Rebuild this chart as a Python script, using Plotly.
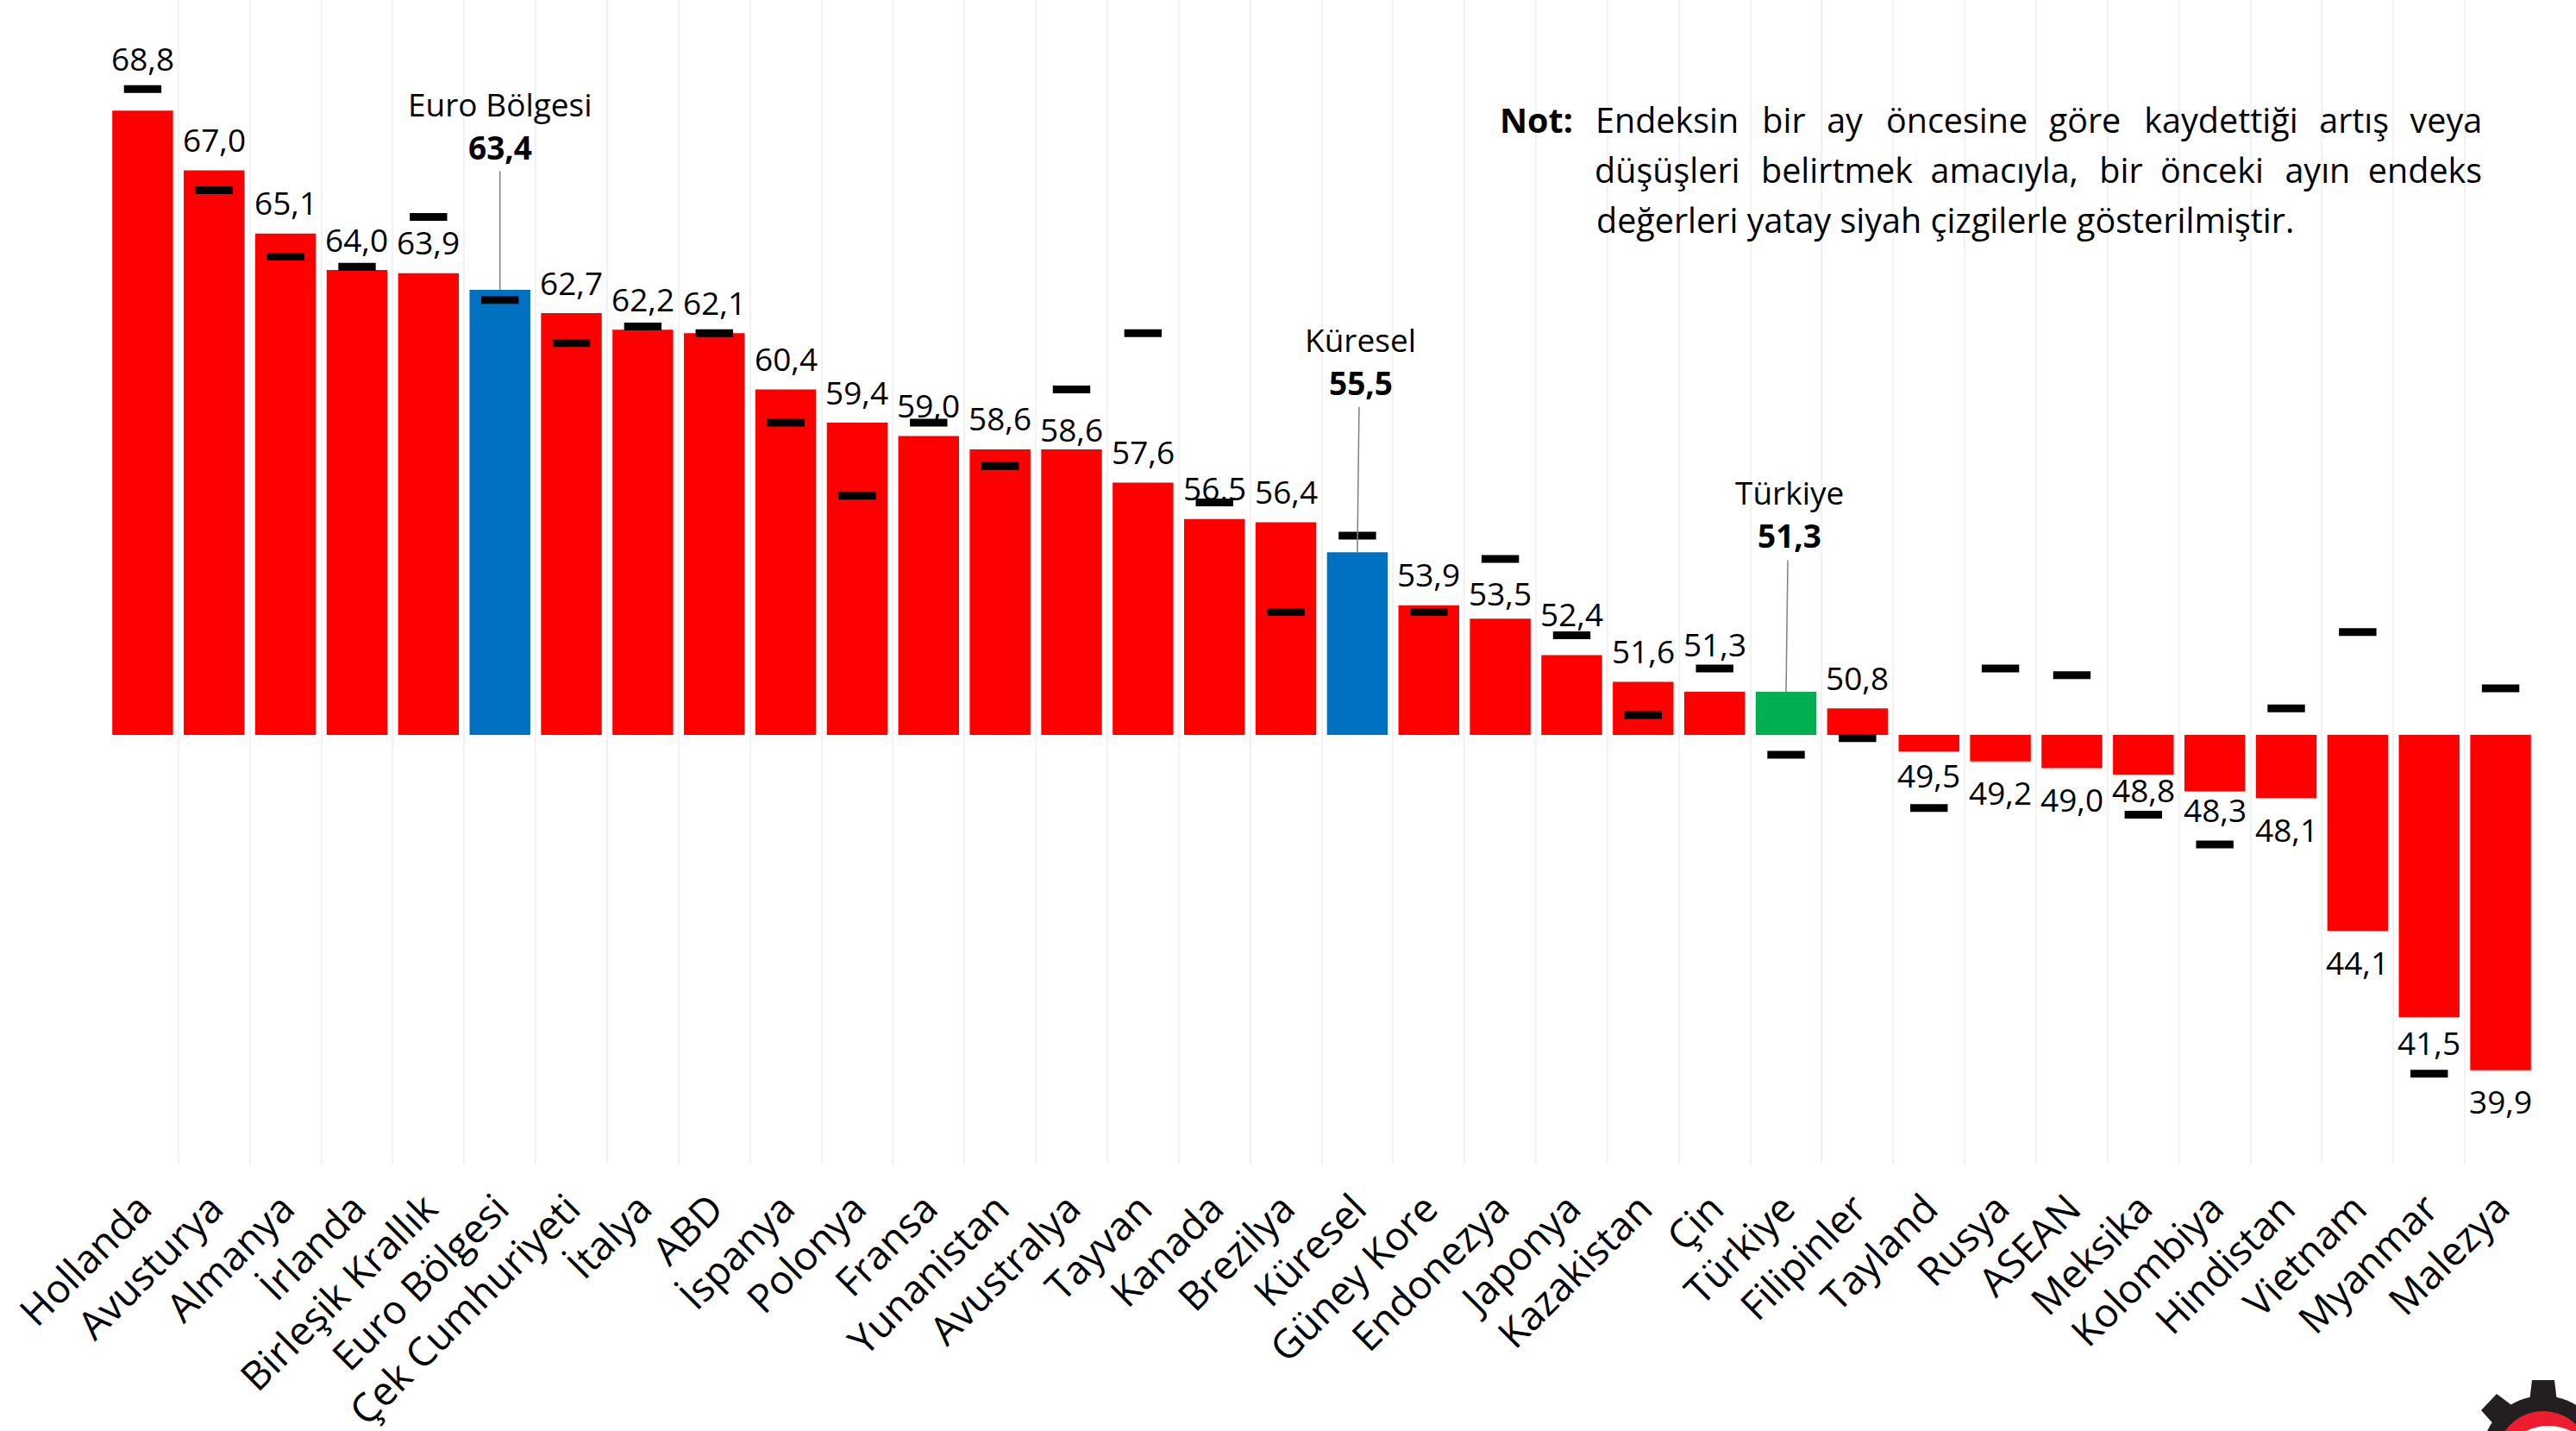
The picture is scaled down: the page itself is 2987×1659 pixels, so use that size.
import plotly.graph_objects as go

categories = ["Hollanda","Avusturya","Almanya","İrlanda","Birleşik Krallık","Euro Bölgesi","Çek Cumhuriyeti","İtalya","ABD","İspanya","Polonya","Fransa","Yunanistan","Avustralya","Tayvan","Kanada","Brezilya","Küresel","Güney Kore","Endonezya","Japonya","Kazakistan","Çin","Türkiye","Filipinler","Tayland","Rusya","ASEAN","Meksika","Kolombiya","Hindistan","Vietnam","Myanmar","Malezya"]
current = [68.8,67.0,65.1,64.0,63.9,63.4,62.7,62.2,62.1,60.4,59.4,59.0,58.6,58.6,57.6,56.5,56.4,55.5,53.9,53.5,52.4,51.6,51.3,51.3,50.8,49.5,49.2,49.0,48.8,48.3,48.1,44.1,41.5,39.9]
previous = [69.45,66.4,64.4,64.1,65.6,63.1,61.8,62.3,62.1,59.4,57.2,59.4,58.1,60.4,62.1,57.0,53.7,56.0,53.7,55.3,53.0,50.6,52.0,49.4,49.9,47.8,52.0,51.8,47.6,46.7,50.8,53.1,39.8,51.4]

W, H = 2987, 1659
L, R, T, B = 123.5, 2941, 0, 1350
FONT = "Open Sans"
RED, BLUE, GREEN = "#FF0000", "#0070C0", "#00B050"
HIGHLIGHT = {"Euro Bölgesi": BLUE, "Küresel": BLUE, "Türkiye": GREEN}

def fmt(v):
    return f"{v:.1f}".replace(".", ",")

def px(x):
    return (x - L) / (R - L)

def py(y):
    return 1 - (y - T) / (B - T)

fig = go.Figure()
fig.add_bar(x=categories, y=[v - 50 for v in current], base=50,
            marker=dict(color=[HIGHLIGHT.get(c, RED) for c in categories], line_width=0),
            showlegend=False)
fig.add_scatter(x=categories, y=previous, mode="markers", showlegend=False,
                marker=dict(symbol="line-ew", size=31, line=dict(color="black", width=9)))

# Label offsets from the bar end, in pixels; exceptions where the marker is in the way
default_shift = 36
shift = {"Hollanda": 61, "Avustralya": 23, "Endonezya": 30, "Japonya": 48, "Çin": 55,
         "Tayland": 27, "Meksika": 17, "Kolombiya": 21, "Myanmar": 29}
ann = []
for c, v in zip(categories, current):
    if c in HIGHLIGHT:
        continue
    s = shift.get(c, default_shift)
    ann.append(dict(x=c, y=v, xref="x", yref="y", text=fmt(v), showarrow=False,
                    yshift=s if v >= 50 else -s, font=dict(family=FONT, size=37, color="black")))

for name, stem in (("Euro Bölgesi", 139), ("Küresel", 170), ("Türkiye", 154)):
    v = current[categories.index(name)]
    ann.append(dict(x=name, y=v, xref="x", yref="y", text="", showarrow=True, arrowhead=0,
                    arrowwidth=1.5, arrowcolor="#7F7F7F", ax=2 if name != "Euro Bölgesi" else 0, ay=-stem))
    ann.append(dict(x=name, y=v, xref="x", yref="y", text=f"<b>{fmt(v)}</b>", showarrow=False,
                    yshift=stem + 27, xshift=4 if name != "Euro Bölgesi" else 0,
                    font=dict(family=FONT, size=37, color="black")))
    ann.append(dict(x=name, y=v, xref="x", yref="y", text=name, showarrow=False,
                    yshift=stem + 77, xshift=4 if name != "Euro Bölgesi" else 0,
                    font=dict(family=FONT, size=37, color="black")))

N = "\u00a0" * 2
H1, TH = "\u200a", "\u2009"
note = [("<b>Not:</b>", 1737, 139, "left"),
        (f"Endeksin{N}{TH}bir{N}{H1}ay{N}{TH}öncesine{N}{H1}göre{N}{TH}kaydettiği{N}{H1}artış{N}{H1}veya", 2880, 139, "right"),
        (f"düşüşleri{N}{H1}belirtmek{N}amacıyla,{N}{H1}bir{N}önceki{N}{H1}ayın{N}endeks", 2880, 197, "right"),
        ("değerleri yatay siyah çizgilerle gösterilmiştir.", 1849, 255, "left")]
for t, x, y, a in note:
    ann.append(dict(x=px(x), y=py(y), xref="paper", yref="paper", text=t, yanchor="middle",
                    showarrow=False, xanchor=a, font=dict(family=FONT, size=39.5, color="black")))

# Gear logo clipped by the lower right corner
cx, cy = 2949, 1690
def circ(x, y, rx, ry, col):
    return dict(type="circle", xref="paper", yref="paper", x0=px(x - rx), x1=px(x + rx),
                y0=py(y + ry), y1=py(y - ry), fillcolor=col, line_width=0)
def poly(points, col):
    path = "M " + " L ".join(f"{px(a)},{py(b)}" for a, b in points) + " Z"
    return dict(type="path", xref="paper", yref="paper", fillcolor=col, line_width=0, path=path)
shapes = [
    poly([(2933, 1625), (2936, 1600), (2962, 1600), (2965, 1625)], "#231F20"),
    poly([(2877, 1635), (2895, 1616), (2915, 1631), (2895, 1655)], "#231F20"),
    circ(cx, cy, 72, 72, "#231F20"),
    circ(cx, cy, 54, 54, "#ED1C2E"),
    circ(2955, 1672, 35, 19, "white"),
]

fig.update_layout(
    width=W, height=H, autosize=False, paper_bgcolor="white", plot_bgcolor="white",
    margin=dict(l=L, r=W - R, t=T, b=H - B, pad=0), bargap=0.15,
    xaxis=dict(type="category", categoryorder="array", categoryarray=categories, range=[-0.5, 33.5],
               tickson="boundaries", showgrid=True, gridcolor="#F2F2F2", gridwidth=2,
               tickangle=-45, ticks="", showline=False, zeroline=False, ticklen=0,
               ticklabelstandoff=14, ticklabelshift=-3,
               tickfont=dict(family=FONT, size=46, color="black"), automargin=False),
    yaxis=dict(range=[50 - (B - 852) / 38.5, 50 + 852 / 38.5], visible=False, showgrid=False,
               zeroline=False, fixedrange=True),
    annotations=ann, shapes=shapes, showlegend=False,
)
fig.write_html("out.html", config={"displayModeBar": False},
               post_script="document.body.style.margin='0';document.body.style.overflow='hidden';")
